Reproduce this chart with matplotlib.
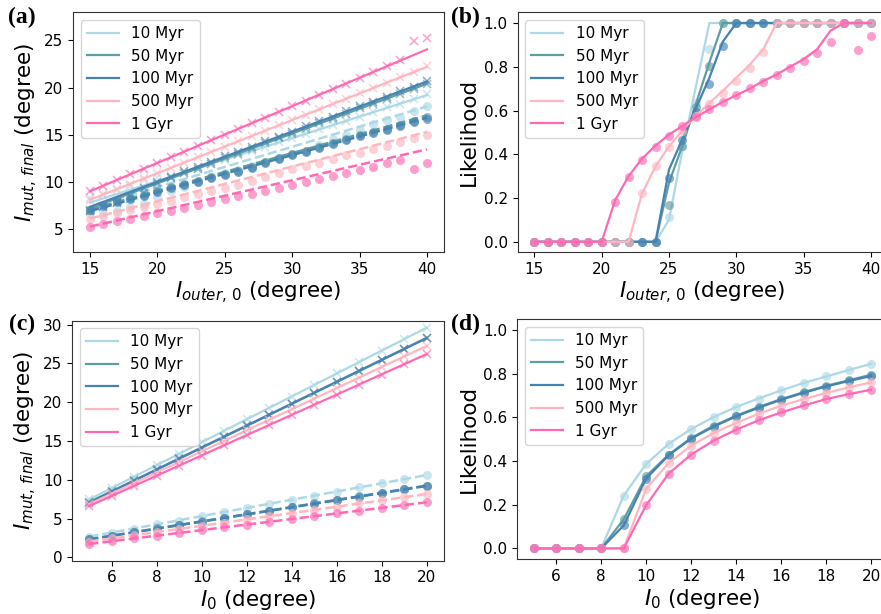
import numpy as np
import matplotlib
matplotlib.use("Agg")
import matplotlib.pyplot as plt

# ---------------------------------------------------------------- data
ages = ["10 Myr", "50 Myr", "100 Myr", "500 Myr", "1 Gyr"]
colors = ["#add8e6", "#5f9ea0", "#4682b4", "#ffb6c1", "#ff69b4"]

# panel (a): final mutual inclination vs. initial outer inclination
i_outer = list(range(15, 41))
a_cross_10 = [8.3, 8.6, 9.1, 9.6, 10.2, 10.4, 10.6, 10.9, 11.4, 11.9, 12.3, 12.8, 13.3,
              13.7, 14.2, 14.6, 15.1, 15.6, 16.0, 16.5, 16.9, 17.4, 17.9, 18.3, 18.8, 19.3]
a_cross_50 = [7.0, 7.4, 7.8, 8.2, 8.8, 9.8, 10.4, 10.9, 11.4, 11.9, 12.5, 13.0, 13.5,
              14.1, 14.6, 15.1, 15.6, 16.2, 16.7, 17.2, 17.8, 18.3, 18.8, 19.3, 19.8, 20.4]
a_cross_100 = [6.9, 7.3, 7.9, 8.5, 9.3, 10.0, 10.5, 11.1, 11.6, 12.1, 12.7, 13.2, 13.7,
               14.3, 14.8, 15.3, 15.9, 16.4, 16.9, 17.5, 18.0, 18.5, 19.0, 19.6, 20.1, 20.7]
a_cross_500 = [8.1, 8.7, 9.2, 9.8, 10.4, 10.9, 11.5, 12.0, 12.6, 13.2, 13.7, 14.3, 14.9,
               15.4, 16.0, 16.6, 17.1, 17.7, 18.3, 18.8, 19.4, 19.9, 20.5, 21.1, 21.6, 22.3]
a_cross_1g = [9.0, 9.6, 10.2, 10.8, 11.4, 12.0, 12.6, 13.2, 13.8, 14.4, 15.0, 15.6, 16.2,
              16.8, 17.4, 18.0, 18.6, 19.2, 19.8, 20.4, 21.0, 21.6, 22.3, 22.9, 24.9, 25.3]

a_circ_10 = [6.7, 6.6, 6.9, 7.3, 7.7, 8.4, 9.0, 9.5, 10.0, 10.5, 10.9, 11.3, 11.7,
             12.1, 12.5, 12.9, 13.3, 13.9, 14.5, 15.0, 15.5, 16.1, 16.6, 16.9, 17.5, 18.0]
a_circ_50 = [7.05, 7.5, 7.95, 8.25, 8.6, 9.05, 9.5, 9.75, 10.1, 10.5, 10.8, 11.1, 11.6,
             12.1, 12.5, 12.95, 13.3, 13.7, 14.1, 14.5, 15.0, 15.3, 15.65, 16.05, 16.45, 16.9]
a_circ_100 = [7.0, 7.44, 7.9, 8.15, 8.5, 8.96, 9.4, 9.67, 10.0, 10.4, 10.7, 11.0, 11.5,
              12.0, 12.4, 12.85, 13.2, 13.6, 14.0, 14.4, 14.9, 15.15, 15.5, 15.9, 16.3, 16.7]
a_circ_500 = [6.1, 6.4, 6.7, 7.0, 7.35, 7.7, 8.0, 8.4, 8.7, 9.0, 9.4, 9.7, 10.1,
              10.5, 10.9, 11.35, 11.7, 12.0, 12.4, 12.8, 13.1, 13.5, 13.8, 14.25, 14.6, 15.0]
a_circ_1g = [5.2, 5.5, 5.8, 6.1, 6.4, 6.65, 6.95, 7.25, 7.55, 7.85, 8.15, 8.45, 8.75,
             9.0, 9.3, 9.65, 9.95, 10.3, 10.6, 10.95, 11.3, 11.6, 11.95, 12.3, 11.35, 12.0]

# linear fits (value at first and last x)
a_solid_fit = [(7.8, 19.2), (7.2, 20.4), (7.35, 20.65), (8.1, 22.2), (9.0, 24.05)]
a_dash_fit = [(7.3, 18.0), (7.05, 17.05), (6.9, 16.8), (6.1, 15.3), (5.25, 13.45)]

# panel (b): likelihood vs. initial outer inclination
b_pts_10 = [0] * 10 + [0.114, 0.434, 0.633, 0.88] + [1.0] * 12
b_pts_50 = [0] * 10 + [0.168, 0.439, 0.617, 0.803] + [1.0] * 12
b_pts_100 = [0] * 10 + [0.29, 0.465, 0.594, 0.721, 0.895] + [1.0] * 11
b_pts_500 = [0] * 8 + [0.221, 0.346, 0.434, 0.505, 0.575, 0.628, 0.681, 0.736,
                       0.796, 0.869] + [1.0] * 8
b_pts_1g = [0] * 6 + [0.183, 0.297, 0.374, 0.434, 0.485, 0.529, 0.569, 0.607, 0.64,
                      0.671, 0.701, 0.732, 0.762, 0.793, 0.826, 0.864, 0.915, 0.998,
                      0.877, 0.94]

b_line_10 = [0] * 10 + [0.10, 0.42, 0.71] + [1.0] * 13
b_line_50 = [0] * 10 + [0.27, 0.44, 0.63, 0.82] + [1.0] * 12
b_line_100 = [0] * 10 + [0.33, 0.47, 0.61, 0.75, 0.915] + [1.0] * 11
b_line_500 = [0] * 8 + [0.22, 0.345, 0.435, 0.51, 0.575, 0.635, 0.69, 0.75,
                        0.81, 0.88] + [1.0] * 8
b_line_1g = [0] * 6 + [0.19, 0.30, 0.38, 0.44, 0.49, 0.53, 0.57, 0.605, 0.64,
                       0.67, 0.70, 0.735, 0.765, 0.80, 0.835, 0.88, 0.965, 1.0,
                       1.0, 1.0]

# panel (c): final mutual inclination vs. initial inclination
i0 = list(range(5, 21))
c_cross_10 = [7.45, 8.9, 10.4, 11.9, 13.35, 14.8, 16.3, 17.8, 19.25, 20.7, 22.2, 23.7,
              25.2, 26.6, 28.1, 29.6]
c_cross_50 = [7.1, 8.5, 9.9, 11.35, 12.75, 14.15, 15.55, 17.0, 18.4, 19.8, 21.2, 22.65,
              24.05, 25.45, 26.85, 28.3]
c_cross_100 = [7.05, 8.45, 9.85, 11.3, 12.7, 14.1, 15.5, 16.95, 18.35, 19.75, 21.15,
               22.6, 24.0, 25.4, 26.8, 28.25]
c_cross_500 = [6.85, 8.2, 9.55, 10.9, 12.3, 13.65, 15.0, 16.35, 17.75, 19.1, 20.45, 21.8,
               23.15, 24.5, 25.9, 27.25]
c_cross_1g = [6.6, 7.9, 9.2, 10.5, 11.8, 13.1, 14.45, 15.75, 17.05, 18.35, 19.65, 20.95,
              22.25, 23.55, 24.9, 26.2]

c_circ_10 = [2.66, 3.17, 3.69, 4.25, 4.72, 5.32, 5.84, 6.4, 6.87, 7.39, 7.94, 8.42,
             9.02, 9.54, 10.05, 10.61]
c_circ_50 = [2.33, 2.8, 3.26, 3.72, 4.18, 4.65, 5.1, 5.56, 6.02, 6.48, 6.95, 7.4,
             7.86, 8.33, 8.79, 9.25]
c_circ_100 = [2.3, 2.76, 3.22, 3.68, 4.14, 4.6, 5.06, 5.52, 5.98, 6.44, 6.9, 7.36,
              7.82, 8.28, 8.74, 9.2]
c_circ_500 = [2.02, 2.43, 2.84, 3.25, 3.66, 4.07, 4.48, 4.89, 5.3, 5.71, 6.12, 6.53,
              6.94, 7.35, 7.75, 8.16]
c_circ_1g = [1.71, 2.07, 2.43, 2.79, 3.15, 3.5, 3.86, 4.22, 4.58, 4.94, 5.3, 5.66,
             6.02, 6.38, 6.73, 7.09]

c_solid_fit = [(7.45, 29.6), (7.1, 28.3), (7.05, 28.25), (6.85, 27.25), (6.6, 26.2)]
c_dash_fit = [(2.66, 10.6), (2.33, 9.25), (2.3, 9.2), (2.02, 8.16), (1.71, 7.09)]

# panel (d): likelihood vs. initial inclination
d_10 = [0, 0, 0, 0, 0.242, 0.387, 0.479, 0.547, 0.602, 0.648, 0.687, 0.724, 0.758,
        0.788, 0.817, 0.846]
d_50 = [0, 0, 0, 0, 0.133, 0.331, 0.43, 0.506, 0.562, 0.608, 0.648, 0.684, 0.716,
        0.745, 0.77, 0.796]
d_100 = [0, 0, 0, 0, 0.105, 0.32, 0.427, 0.503, 0.558, 0.605, 0.645, 0.681, 0.713,
         0.742, 0.767, 0.79]
d_500 = [0, 0, 0, 0, 0, 0.273, 0.392, 0.471, 0.529, 0.575, 0.617, 0.654, 0.684,
         0.712, 0.738, 0.761]
d_1g = [0, 0, 0, 0, 0, 0.198, 0.343, 0.43, 0.494, 0.544, 0.587, 0.623, 0.655,
        0.684, 0.707, 0.727]

a_cross = [a_cross_10, a_cross_50, a_cross_100, a_cross_500, a_cross_1g]
a_circ = [a_circ_10, a_circ_50, a_circ_100, a_circ_500, a_circ_1g]
b_pts = [b_pts_10, b_pts_50, b_pts_100, b_pts_500, b_pts_1g]
b_line = [b_line_10, b_line_50, b_line_100, b_line_500, b_line_1g]
c_cross = [c_cross_10, c_cross_50, c_cross_100, c_cross_500, c_cross_1g]
c_circ = [c_circ_10, c_circ_50, c_circ_100, c_circ_500, c_circ_1g]
d_pts = [d_10, d_50, d_100, d_500, d_1g]

# ---------------------------------------------------------------- style
plt.rcParams["font.family"] = ["DejaVu Sans"]
plt.rcParams["mathtext.fontset"] = "dejavusans"
TICK_FS = 11
LABEL_FS = 15.5
LEG_FS = 11
MK_ALPHA = 0.65

W, H = 881, 614
fig = plt.figure(figsize=(W / 100, H / 100), dpi=100)


def frac(left, top, width, height):
    return [left / W, 1 - (top + height) / H, width / W, height / H]


ax_a = fig.add_axes(frac(73.1, 12.3, 370.8, 239.7))
ax_b = fig.add_axes(frac(517.5, 12.3, 370.3, 240.0))
ax_c = fig.add_axes(frac(72.3, 320.7, 371.3, 240.0))
ax_d = fig.add_axes(frac(516.9, 319.3, 371.0, 240.0))


def inclination_panel(ax, x, crosses, circles, solid_fit, dash_fit):
    xe = [x[0], x[-1]]
    for k in range(len(ages)):
        c = colors[k]
        ax.plot(x, crosses[k], ls="none", marker="x", ms=6, mew=1.1,
                color=c, alpha=MK_ALPHA)
        ax.plot(xe, solid_fit[k], color=c, lw=1.6, label=ages[k])
        ax.plot(x, circles[k], ls="none", marker="o", ms=6.5, mew=0,
                color=c, alpha=MK_ALPHA)
        ax.plot(xe, dash_fit[k], color=c, lw=1.8, ls=(0, (3.7, 1.6)))


def likelihood_panel(ax, x, points, lines):
    for k in range(len(ages)):
        c = colors[k]
        ax.plot(x, lines[k], color=c, lw=1.6, label=ages[k])
        ax.plot(x, points[k], ls="none", marker="o", ms=6.5, mew=0,
                color=c, alpha=MK_ALPHA)


inclination_panel(ax_a, i_outer, a_cross, a_circ, a_solid_fit, a_dash_fit)
likelihood_panel(ax_b, i_outer, b_pts, b_line)
inclination_panel(ax_c, i0, c_cross, c_circ, c_solid_fit, c_dash_fit)
likelihood_panel(ax_d, i0, d_pts, d_pts)

ax_a.set_xlim(13.75, 41.25)
ax_a.set_ylim(2.56, 27.98)
ax_a.set_xticks([15, 20, 25, 30, 35, 40])
ax_a.set_yticks([5, 10, 15, 20, 25])
ax_b.set_xlim(13.75, 41.25)
ax_b.set_ylim(-0.048, 1.049)
ax_b.set_xticks([15, 20, 25, 30, 35, 40])
ax_b.set_yticks([0.0, 0.2, 0.4, 0.6, 0.8, 1.0])
ax_c.set_xlim(4.25, 20.75)
ax_c.set_ylim(-0.44, 30.5)
ax_c.set_xticks([6, 8, 10, 12, 14, 16, 18, 20])
ax_c.set_yticks([0, 5, 10, 15, 20, 25, 30])
ax_d.set_xlim(4.25, 20.75)
ax_d.set_ylim(-0.05, 1.05)
ax_d.set_xticks([6, 8, 10, 12, 14, 16, 18, 20])
ax_d.set_yticks([0.0, 0.2, 0.4, 0.6, 0.8, 1.0])

xl_outer = r"$I_{outer,\,0}$ (degree)"
xl_i0 = r"$I_0$ (degree)"
yl_mut = r"$I_{mut,\,final}$ (degree)"
ax_a.set_xlabel(xl_outer, fontsize=LABEL_FS, labelpad=2)
ax_b.set_xlabel(xl_outer, fontsize=LABEL_FS, labelpad=2)
ax_c.set_xlabel(xl_i0, fontsize=LABEL_FS, labelpad=2)
ax_d.set_xlabel(xl_i0, fontsize=LABEL_FS, labelpad=2)
ax_a.set_ylabel(yl_mut, fontsize=LABEL_FS, labelpad=3)
ax_c.set_ylabel(yl_mut, fontsize=LABEL_FS, labelpad=3)
ax_b.set_ylabel("Likelihood", fontsize=LABEL_FS, labelpad=3)
ax_d.set_ylabel("Likelihood", fontsize=LABEL_FS, labelpad=3)

for ax in (ax_a, ax_b, ax_c, ax_d):
    ax.tick_params(labelsize=TICK_FS)
    for s in ax.spines.values():
        s.set_color("#333333")
    ax.legend(loc="upper left", fontsize=LEG_FS, handlelength=2.1,
              borderaxespad=0.5)

panel_tags = [("(a)", 8, 7), ("(b)", 451, 7), ("(c)", 9, 314), ("(d)", 451, 314)]
for tag, px, py in panel_tags:
    fig.text(px / W, 1 - py / H, tag, fontsize=17, fontweight="bold",
             family="Liberation Serif", va="top", ha="left")

fig.savefig("out.png", dpi=100)
